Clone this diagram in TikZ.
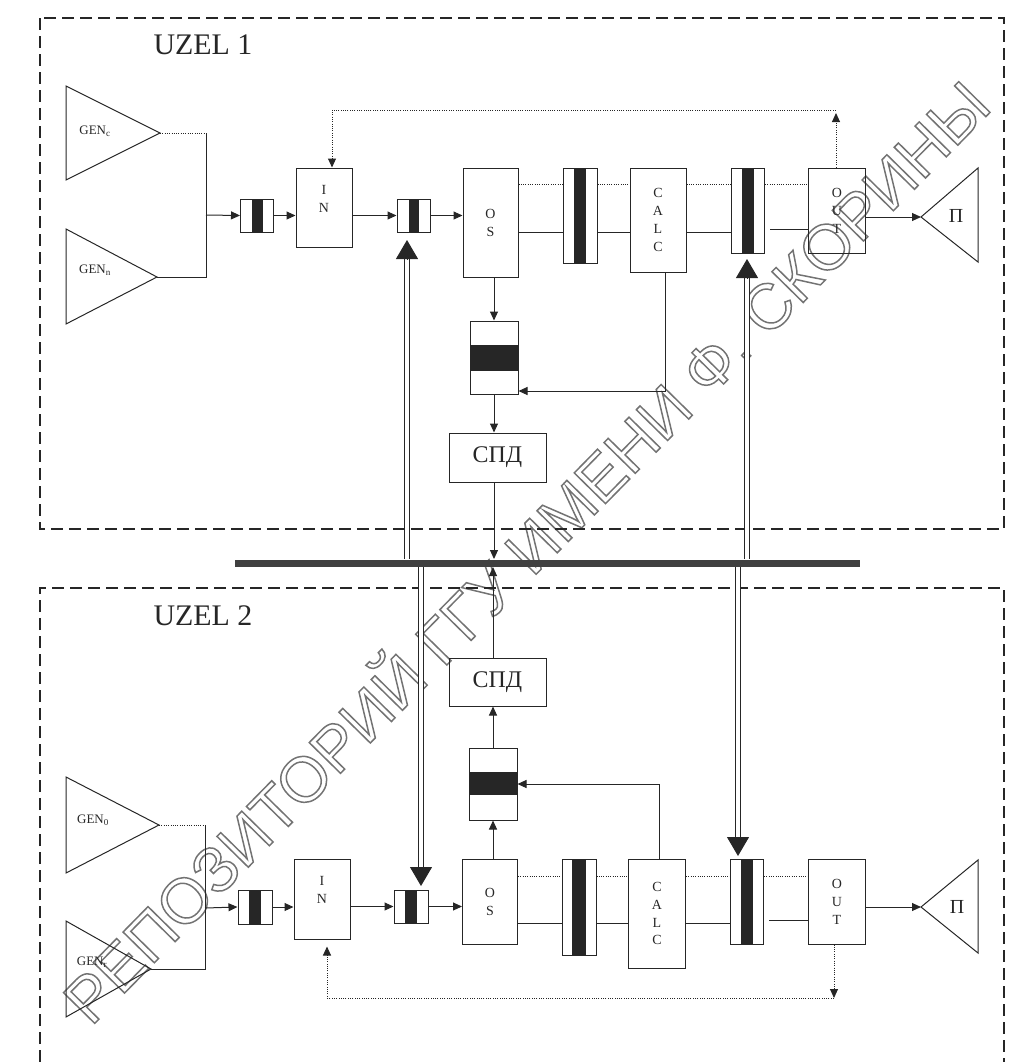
\documentclass[tikz,border=0pt]{standalone}
\usepackage{fontspec}
\setmainfont{Liberation Serif}
\newfontfamily\wmfont{Liberation Sans}
\usetikzlibrary{arrows.meta}
\begin{document}
\begin{tikzpicture}[x=1bp,y=-1bp,line width=1bp,color=black!85,
  blk/.style={draw,inner sep=0pt,align=center,font=\fontsize{14}{18}\selectfont},
  buf/.style={draw,inner sep=0pt},
  arr/.style={-{Triangle[length=9bp,width=8bp]}},
  dotl/.style={dash pattern=on 1bp off 1.3bp},
  dbl/.style={double=white,double distance=4bp,line width=0.9bp},
  bigarr/.style={-{Triangle[length=19bp,width=22bp]}},
  zone/.style={dash pattern=on 12bp off 6bp,line width=1.6bp},
  gen/.style={font=\fontsize{13}{13}\selectfont}]
% picture 1014 x 1062, one unit = one pixel, y downwards
\useasboundingbox (0,0) rectangle (1014,1062);
\def\darkbar#1#2{\fill[black!85] ([xshift=-#2]#1.north) rectangle ([xshift=#2]#1.south);}
\node[rotate=45.5,text=black!55,font=\wmfont\fontsize{64}{64}\selectfont] (wm) at (522,548)
  {\special{pdf:code 1 Tr 1.5 w}РЕПОЗИТОРИЙ ГГУ ИМЕНИ Ф. СКОРИНЫ\special{pdf:code 0 Tr}};
\draw[zone] (40,18) rectangle (1004,529);
\draw[zone] (40,1062) -- (40,588) -- (1004,588) -- (1004,1062);
\node[font=\fontsize{30}{30}\selectfont] (zA) at (203,45) {UZEL 1};
\node[font=\fontsize{30}{30}\selectfont] (zB) at (203,616) {UZEL 2};
\node[fill=black!75,minimum width=625bp,minimum height=7bp,inner sep=0pt] (bus) at (547.5,563) {};
% UZEL 1
\coordinate (gcA) at (160,133);
\coordinate (gnA) at (157,277);
\draw (66,86) -- (gcA) -- (66,180) -- cycle;
\draw (66,229) -- (gnA) -- (66,324) -- cycle;
\node[gen] (gcAl) at (95,131) {GEN\textsubscript{c}};
\node[gen] (gnAl) at (95,270) {GEN\textsubscript{n}};
\node[buf,minimum width=33bp,minimum height=33bp] (bufA1) at (257,215.5) {};
\node[blk,minimum width=56bp,minimum height=79bp] (inA) at (324,207.5) {I\\N\\\mbox{}};
\node[buf,minimum width=33bp,minimum height=33bp] (bufB1) at (413.5,215.5) {};
\node[blk,minimum width=55bp,minimum height=109bp] (osA) at (490.5,222.5) {O\\S};
\node[buf,minimum width=34bp,minimum height=95bp] (barA) at (580,215.5) {};
\node[blk,minimum width=56bp,minimum height=104bp] (calcA) at (658,220) {C\\A\\L\\C};
\node[buf,minimum width=33bp,minimum height=85bp] (barB) at (748,210.5) {};
\node[blk,minimum width=57bp,minimum height=85bp] (outA) at (837,210.5) {O\\U\\T};
\node[buf,minimum width=48bp,minimum height=73bp] (stA) at (494,357.5) {};
\node[blk,minimum width=97bp,minimum height=49bp,font=\fontsize{24}{24}\selectfont] (spdA) at (497.5,457.5) {СПД};
\darkbar{bufA1}{5.5bp}\darkbar{bufB1}{5bp}\darkbar{barA}{6bp}\darkbar{barB}{6bp}
\fill[black!85] ([yshift=13bp]stA.west) rectangle ([yshift=-13bp]stA.east);
\coordinate (piA) at (921,217);
\draw (piA) -- (978,168) -- (978,262) -- cycle;
\node[font=\fontsize{20}{20}\selectfont] (piAl) at (956,216) {П};
\coordinate (jA) at (206,215);
\draw[dotl] (gcA) -- (gcA -| jA);
\draw (gcA -| jA) -- (gnA -| jA) -- (gnA);
\draw[arr] (jA) -- (bufA1.west);
\draw[arr] (bufA1.east) -- (bufA1.east -| inA.west);
\draw[arr] (inA.east |- bufB1) -- (bufB1.west);
\draw[arr] (bufB1.east) -- (bufB1.east -| osA.west);
\coordinate (dtA) at (0,184);
\coordinate (slA) at (0,232);
\coordinate (slB) at (0,229);
\coordinate (gA) at ([xshift=5bp]barB.east);
\draw[dotl] (osA.east |- dtA) -- (barA.west |- dtA) (barA.east |- dtA) -- (calcA.west |- dtA)
  (calcA.east |- dtA) -- (barB.west |- dtA) (barB.east |- dtA) -- (outA.west |- dtA);
\draw (osA.east |- slA) -- (barA.west |- slA) (barA.east |- slA) -- (calcA.west |- slA)
  (calcA.east |- slA) -- (barB.west |- slA);
\draw (gA |- slB) -- (outA.west |- slB);
\draw[arr] (outA.east |- piA) -- (piA);
\coordinate (fbA) at (836,110);
\coordinate (fbA2) at (332,110);
\draw[dotl,arr] (outA.north -| fbA) -- ([yshift=-3bp]fbA);
\draw[dotl,arr] (fbA) -- (fbA2) -- (fbA2 |- inA.north);
\draw[arr] (osA.south -| stA) -- (stA.north);
\coordinate (cA) at (665,391);
\draw[arr] (calcA.south -| cA) -- (cA) -- (cA -| stA.east);
\draw[arr] (stA.south) -- (stA.south |- spdA.north);
\draw[arr] (stA |- spdA.south) -- (stA |- bus.north);
\coordinate (uA) at (407,240);
\coordinate (uB) at (747,259);
\draw[dbl] (uA |- bus.north) -- ([yshift=-19bp]uA);
\draw[bigarr] ([yshift=-19bp]uA) -- (uA);
\draw[dbl] (uB |- bus.north) -- ([yshift=-19bp]uB);
\draw[bigarr] ([yshift=-19bp]uB) -- (uB);
% UZEL 2
\coordinate (goB) at (159,825);
\coordinate (grB) at (151,969);
\draw (66,777) -- (goB) -- (66,873) -- cycle;
\draw (66,921) -- (grB) -- (66,1017) -- cycle;
\node[gen] (goBl) at (93,820) {GEN\textsubscript{0}};
\node[gen] (grBl) at (92,962) {GEN\textsubscript{r}};
\node[buf,minimum width=34bp,minimum height=34bp] (bufA2) at (255,907) {};
\node[blk,minimum width=56bp,minimum height=80bp] (inB) at (322,899) {I\\N\\\mbox{}};
\node[buf,minimum width=34bp,minimum height=33bp] (bufB2) at (411,906.5) {};
\node[blk,minimum width=55bp,minimum height=85bp] (osB) at (490,901.5) {O\\S};
\node[buf,minimum width=34bp,minimum height=96bp] (barC) at (579,907) {};
\node[blk,minimum width=57bp,minimum height=109bp] (calcB) at (657,913.5) {C\\A\\L\\C};
\node[buf,minimum width=33bp,minimum height=85bp] (barD) at (747,901.5) {};
\node[blk,minimum width=57bp,minimum height=85bp] (outB) at (837,901.5) {O\\U\\T};
\node[buf,minimum width=48bp,minimum height=72bp] (stB) at (493,784) {};
\node[blk,minimum width=97bp,minimum height=48bp,font=\fontsize{24}{24}\selectfont] (spdB) at (497.5,682) {СПД};
\darkbar{bufA2}{6bp}\darkbar{bufB2}{6bp}\darkbar{barC}{7bp}\darkbar{barD}{6bp}
\fill[black!85] ([yshift=12bp]stB.west) rectangle ([yshift=-11bp]stB.east);
\coordinate (piB) at (921,907);
\draw (piB) -- (978,860) -- (978,953) -- cycle;
\node[font=\fontsize{20}{20}\selectfont] (piBl) at (957,907) {П};
\coordinate (jB) at (205,908);
\draw[dotl] (goB) -- (goB -| jB);
\draw (goB -| jB) -- (grB -| jB) -- (grB);
\draw[arr] (jB) -- (bufA2.west);
\draw[arr] (bufA2.east) -- (bufA2.east -| inB.west);
\draw[arr] (inB.east |- bufB2) -- (bufB2.west);
\draw[arr] (bufB2.east) -- (bufB2.east -| osB.west);
\coordinate (dtB) at (0,876);
\coordinate (slC) at (0,923);
\coordinate (slD) at (0,920);
\coordinate (gB) at ([xshift=5bp]barD.east);
\draw[dotl] (osB.east |- dtB) -- (barC.west |- dtB) (barC.east |- dtB) -- (calcB.west |- dtB)
  (calcB.east |- dtB) -- (barD.west |- dtB) (barD.east |- dtB) -- (outB.west |- dtB);
\draw (osB.east |- slC) -- (barC.west |- slC) (barC.east |- slC) -- (calcB.west |- slC)
  (calcB.east |- slC) -- (barD.west |- slC);
\draw (gB |- slD) -- (outB.west |- slD);
\draw[arr] (outB.east |- piB) -- (piB);
\coordinate (fbB) at (834,998);
\coordinate (fbB2) at (327,998);
\coordinate (inBb) at ([yshift=-7bp]inB.south);
\draw[dotl,arr] (outB.south -| fbB) -- (fbB);
\draw[dotl,arr] (fbB) -- (fbB2) -- (fbB2 |- inBb);
\draw[arr] (osB.north -| stB) -- (stB.south);
\coordinate (cB) at (659,784);
\draw[arr] (calcB.north -| cB) -- (cB) -- (cB -| stB.east);
\draw[arr] (stB.north) -- (stB.north |- spdB.south);
\draw[arr] (stB |- spdB.north) -- (stB |- bus.south);
\coordinate (uC) at (421,886);
\coordinate (uD) at (738,856);
\draw[dbl] (uC |- bus.south) -- ([yshift=19bp]uC);
\draw[bigarr] ([yshift=19bp]uC) -- (uC);
\draw[dbl] (uD |- bus.south) -- ([yshift=19bp]uD);
\draw[bigarr] ([yshift=19bp]uD) -- (uD);
\end{tikzpicture}
\end{document}
